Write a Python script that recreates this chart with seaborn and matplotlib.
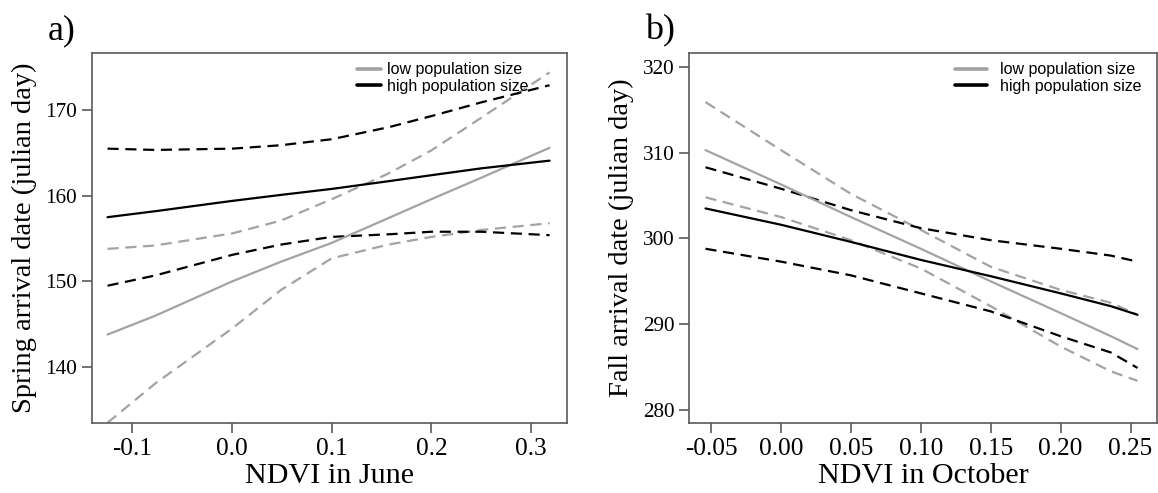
import matplotlib
matplotlib.use("Agg")
import matplotlib.pyplot as plt
import seaborn as sns
import numpy as np
import pandas as pd

# ---- Panel a data (NDVI in June vs spring arrival) ----
ndvi_june = [-0.125, -0.077, 0.0, 0.049, 0.1, 0.157, 0.2, 0.25, 0.3186]
a_low_fit = [143.8, 146.0, 150.0, 152.3, 154.5, 157.4, 159.6, 162.1, 165.6]
a_low_upper = [153.8, 154.2, 155.6, 157.1, 159.6, 162.6, 165.3, 169.1, 174.4]
a_low_lower = [133.5, 138.1, 144.5, 149.0, 152.7, 154.3, 155.2, 156.0, 156.8]
a_high_fit = [157.5, 158.2, 159.4, 160.1, 160.8, 161.7, 162.4, 163.2, 164.1]
a_high_upper = [165.5, 165.35, 165.5, 165.9, 166.6, 168.0, 169.3, 170.9, 172.9]
a_high_lower = [149.5, 150.7, 153.1, 154.3, 155.2, 155.5, 155.8, 155.8, 155.4]
a_yticks = [140, 150, 160, 170]
a_xticks = [-0.1, 0.0, 0.1, 0.2, 0.3]
a_xticklabels = ["-0.1", "0.0", "0.1", "0.2", "0.3"]

# ---- Panel b data (NDVI in October vs fall arrival) ----
ndvi_oct = [-0.054, 0.0, 0.05, 0.1, 0.15, 0.2, 0.236, 0.255]
b_low_fit = [310.3, 306.3, 302.5, 298.8, 295.0, 291.3, 288.6, 287.1]
b_low_upper = [315.9, 310.3, 305.2, 301.0, 296.7, 294.0, 292.5, 291.1]
b_low_lower = [304.8, 302.5, 299.8, 296.5, 292.1, 287.4, 284.5, 283.4]
b_high_fit = [303.5, 301.6, 299.6, 297.5, 295.6, 293.6, 292.1, 291.1]
b_high_upper = [308.3, 305.8, 303.3, 301.2, 299.8, 298.8, 298.0, 297.3]
b_high_lower = [298.8, 297.3, 295.7, 293.6, 291.5, 288.6, 286.7, 284.9]
b_yticks = [280, 290, 300, 310, 320]
b_xticks = [-0.05, 0.0, 0.05, 0.10, 0.15, 0.20, 0.25]
b_xticklabels = ["-0.05", "0.00", "0.05", "0.10", "0.15", "0.20", "0.25"]

legend_labels = ["low population size", "high population size"]
GRAY = "#a3a3a3"
BLACK = "#000000"
SPINE = "#5a5a5a"

sns.set_theme(style="white")
plt.rcParams["font.family"] = ["Liberation Serif", "DejaVu Serif"]
plt.rcParams["text.color"] = "black"
plt.rcParams["axes.labelcolor"] = "black"
plt.rcParams["xtick.color"] = "black"
plt.rcParams["ytick.color"] = "black"

fig = plt.figure(figsize=(11.58, 4.93), dpi=100)
axa = fig.add_axes([0.0792, 0.1414, 0.4107, 0.7517])
axb = fig.add_axes([0.5950, 0.1414, 0.4040, 0.7517])


def draw(ax, x, low_fit, low_up, low_lo, high_fit, high_up, high_lo):
    dash = (0, (5, 3))
    sns.lineplot(x=x, y=low_up, ax=ax, color=GRAY, lw=1.6, linestyle=dash)
    sns.lineplot(x=x, y=low_lo, ax=ax, color=GRAY, lw=1.6, linestyle=dash)
    sns.lineplot(x=x, y=high_up, ax=ax, color=BLACK, lw=1.6, linestyle=dash)
    sns.lineplot(x=x, y=high_lo, ax=ax, color=BLACK, lw=1.6, linestyle=dash)
    sns.lineplot(x=x, y=low_fit, ax=ax, color=GRAY, lw=1.6, label=legend_labels[0])
    sns.lineplot(x=x, y=high_fit, ax=ax, color=BLACK, lw=1.6, label=legend_labels[1])


draw(axa, ndvi_june, a_low_fit, a_low_upper, a_low_lower, a_high_fit, a_high_upper, a_high_lower)
draw(axb, ndvi_oct, b_low_fit, b_low_upper, b_low_lower, b_high_fit, b_high_upper, b_high_lower)

axa.set_xlim(-0.1409, 0.3364)
axa.set_ylim(133.44, 176.7)
axa.set_xticks(a_xticks)
axa.set_xticklabels(a_xticklabels)
axa.set_yticks(a_yticks)
axa.set_xlabel("NDVI in June", fontsize=21.7, labelpad=2, color="black")
axa.set_ylabel("Spring arrival date (julian day)", fontsize=20.5, labelpad=6, color="black")

axb.set_xlim(-0.0658, 0.2688)
axb.set_ylim(278.45, 321.66)
axb.set_xticks(b_xticks)
axb.set_xticklabels(b_xticklabels)
axb.set_yticks(b_yticks)
axb.set_xlabel("NDVI in October", fontsize=21.7, labelpad=2, color="black")
axb.set_ylabel("Fall arrival date (julian day)", fontsize=20.5, labelpad=6, color="black")

legend_pos = {axa: (0.557, 1.55, 0.35), axb: (0.568, 2.05, 0.8)}
for ax in (axa, axb):
    for sp in ax.spines.values():
        sp.set_color(SPINE)
        sp.set_linewidth(1.2)
    ax.tick_params(axis="both", which="major", direction="out", length=7.5, width=1.2,
                   color=SPINE, labelcolor="black", pad=3, bottom=True, left=True)
    ax.tick_params(axis="x", labelsize=18.2)
    ax.tick_params(axis="y", labelsize=15.3)
    xpos, hl, htp = legend_pos[ax]
    leg = ax.legend(loc="upper left", bbox_to_anchor=(xpos, 0.974), frameon=False,
                    handlelength=hl, handletextpad=htp, labelspacing=0.08,
                    borderaxespad=0, borderpad=0,
                    prop={"family": "Liberation Sans", "size": 11.5})
    for t in leg.get_texts():
        t.set_color("black")
    for h in leg.get_lines():
        h.set_linewidth(2.6)

fig.text(0.041, 0.937, "a)", fontsize=26, va="center", ha="left", color="black")
fig.text(0.557, 0.937, "b)", fontsize=26, va="center", ha="left", color="black")

fig.savefig("out.png", dpi=100)
